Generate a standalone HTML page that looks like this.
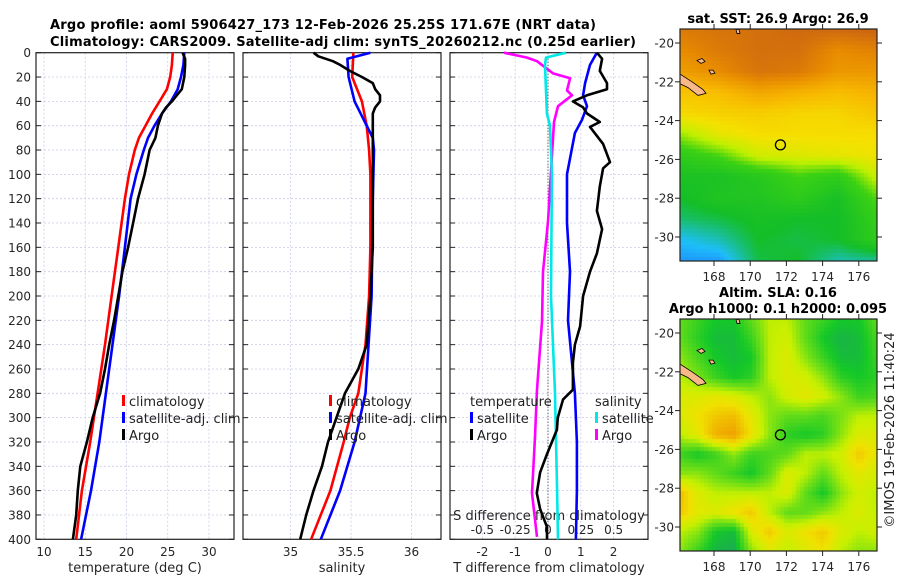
<!DOCTYPE html>
<html><head><meta charset="utf-8">
<style>
html,body{margin:0;padding:0;background:#fff;}
svg{display:block;font-family:"DejaVu Sans","Liberation Sans",sans-serif;}
canvas{position:absolute;}
</style></head>
<body>
<div style="position:relative;width:900px;height:580px;">
<canvas id="sst" width="197" height="232" style="left:680px;top:29px"></canvas>
<canvas id="sla" width="197" height="232" style="left:680px;top:319px"></canvas>
<svg id="svg" width="900" height="580" style="position:absolute;left:0;top:0" xmlns="http://www.w3.org/2000/svg">
<text x="50" y="29" font-size="13" font-weight="bold" textLength="546">Argo profile: aoml 5906427_173 12-Feb-2026 25.25S 171.67E (NRT data)</text>
<text x="50" y="46" font-size="13" font-weight="bold" textLength="586">Climatology: CARS2009. Satellite-adj clim: synTS_20260212.nc (0.25d earlier)</text>
<text x="778" y="23" font-size="13" font-weight="bold" text-anchor="middle">sat. SST: 26.9 Argo: 26.9</text>
<text x="778" y="297" font-size="13" font-weight="bold" text-anchor="middle">Altim. SLA: 0.16</text>
<text x="778" y="313" font-size="13" font-weight="bold" text-anchor="middle">Argo h1000: 0.1 h2000: 0.095</text>
<text transform="translate(894,430) rotate(-90)" font-size="13" text-anchor="middle" fill="#222">©IMOS 19-Feb-2026 11:40:24</text>
</svg>
</div>
<script>
// ---- data ----
const tempArgoDepth=[0,5,10,20,30,35,40,45,50,60,70,80,90,100,120,140,160,180,200,220,240,260,280,300,320,340,360,380,400];
const tempArgo=[26.8,27.1,27.1,27.0,26.7,26.1,25.5,24.8,24.3,23.8,23.5,22.8,22.5,22.2,21.4,20.8,20.2,19.5,19.0,18.5,17.9,17.4,16.8,15.9,15.2,14.4,14.1,13.9,13.5];
const climDepth=[0,10,20,30,40,50,60,70,80,100,120,160,200,240,280,320,360,400];
const tempClim=[25.6,25.5,25.3,24.9,24.0,23.1,22.3,21.5,21.0,20.3,19.8,19.0,18.2,17.4,16.5,15.6,14.6,13.9];
const tempSat=[27.0,26.9,26.6,26.2,25.4,24.3,23.4,22.6,22.1,21.2,20.5,19.8,19.1,18.3,17.5,16.7,15.7,14.5];
const salClimDepth=[0,20,40,60,80,100,160,200,240,280,300,320,360,400];
const salClim=[35.52,35.51,35.59,35.63,35.65,35.66,35.66,35.65,35.62,35.56,35.49,35.44,35.33,35.17];
const salSatDepth=[0,5,20,40,60,70,80,120,200,280,320,360,400];
const salSat=[35.66,35.47,35.48,35.53,35.63,35.68,35.69,35.68,35.67,35.62,35.53,35.41,35.25];
const salArgoDepth=[0,3,7,10,15,20,25,30,35,40,45,50,60,80,100,160,200,240,260,280,300,320,340,360,380,400];
const salArgo=[35.19,35.23,35.35,35.41,35.49,35.59,35.68,35.70,35.74,35.74,35.70,35.68,35.68,35.68,35.68,35.68,35.66,35.63,35.56,35.45,35.38,35.31,35.26,35.19,35.13,35.08];
const dTArgoDepth=[0,5,15,25,30,35,40,45,50,57,61,75,90,95,110,130,145,165,180,200,225,240,255,277,285,300,310,330,345,362,375,390,400];
const dTArgo=[1.49,1.65,1.58,1.8,1.8,1.19,0.76,1.07,1.19,1.58,1.28,1.68,1.89,1.68,1.58,1.49,1.65,1.49,1.28,1.07,0.98,0.82,0.76,0.76,0.46,0.30,0.27,-0.03,-0.24,-0.34,-0.24,-0.03,-0.03];
const dTSatDepth=[0,10,25,35,44,55,66,100,140,180,220,280,320,360,400];
const dTSat=[1.49,1.28,1.13,1.07,1.19,1.04,0.82,0.58,0.58,0.67,0.61,0.82,0.88,0.88,0.85];
const dSArgoDepth=[0,4,7,17,21,31,35,44,57,98,139,180,221,277,316,362,398];
const dSArgo=[-0.335,-0.160,-0.084,0.038,0.168,0.145,0.183,0.076,0.046,0.023,0.0,-0.038,-0.046,-0.084,-0.099,-0.122,-0.084];
const dSSatDepth=[0,4,10,50,60,100,200,280,360,400];
const dSSat=[0.137,-0.015,-0.023,-0.008,0.015,0.030,0.023,0.053,0.069,0.076];
const depthTicks=[0,20,40,60,80,100,120,140,160,180,200,220,240,260,280,300,320,340,360,380,400];
const tempTicks=[10,15,20,25,30];
const salTicks=[35,35.5,36];
const dTTicks=[-2,-1,0,1,2];
const dSTicks=[-0.5,-0.25,0,0.25,0.5];
const lonTicks=[168,170,172,174,176];
const latTicks=[-20,-22,-24,-26,-28,-30];
const floatLon=171.67, floatLat=-25.25;
const sstGrid=[
[.92,.94,.95,.97,.97,.99],[.87,.92,.95,.95,.87,.9],[.82,.87,.94,.92,.84,.84],[.72,.74,.8,.77,.74,.77],
[.67,.69,.7,.68,.68,.72],[.52,.62,.66,.66,.66,.66],[.4,.46,.58,.6,.62,.64],[.33,.33,.37,.45,.4,.57],
[.3,.35,.35,.4,.32,.47],[.25,.28,.32,.3,.3,.42],[.15,.2,.3,.28,.3,.4],[.1,.1,.28,.3,.2,.22]];
const slaGrid=[
[.45,.4,.35,.35,.45,.55,.55,.45,.4,.35,.35,.45],[.45,.38,.32,.32,.4,.55,.58,.45,.35,.3,.32,.42],
[.5,.42,.35,.32,.35,.55,.6,.5,.4,.32,.32,.4],[.55,.48,.4,.35,.38,.55,.6,.58,.5,.38,.35,.38],
[.6,.6,.62,.6,.55,.5,.58,.62,.58,.5,.4,.42],[.6,.65,.7,.72,.62,.5,.45,.45,.42,.48,.55,.55],
[.55,.62,.75,.78,.65,.5,.38,.35,.38,.5,.6,.6],[.4,.35,.4,.5,.4,.42,.45,.55,.55,.58,.7,.62],
[.5,.5,.45,.4,.35,.45,.6,.55,.45,.55,.62,.58],[.72,.6,.55,.55,.55,.55,.6,.45,.35,.5,.58,.55],
[.7,.62,.6,.65,.7,.55,.45,.45,.5,.55,.6,.55],[.55,.5,.35,.32,.6,.7,.6,.65,.7,.6,.55,.58],
[.5,.4,.3,.28,.5,.6,.55,.6,.65,.55,.5,.5]];

// ---- scales ----
const NS="http://www.w3.org/2000/svg";
const svg=document.getElementById('svg');
const Y0=52.7, YS=1.2165;
const yD=d=>Y0+d*YS;
const xT=t=>44+(t-10)*8.25;
const xS=s=>351+(s-35.5)*121;
const xDT=v=>548+v*32.8;
const xDS=s=>548+s*131.3;
const panels=[[36,234],[243,441],[450,648]];
function el(tag,attrs,parent){const e=document.createElementNS(NS,tag);for(const k in attrs)e.setAttribute(k,attrs[k]);(parent||svg).appendChild(e);return e;}
function txt(x,y,s,attrs){const e=el('text',Object.assign({x:x,y:y,'font-size':12,fill:'#262626'},attrs||{}));e.textContent=s;return e;}

panels.forEach((p,i)=>{
  const g=el('g',{});
  
  
  depthTicks.forEach(d=>{
    const l=el('line',{x1:p[0],x2:p[1],y1:yD(d),y2:yD(d),stroke:'#c8cce8','stroke-width':0.8,'stroke-dasharray':'2,2'},g);
    
    
    el('line',{x1:p[0],x2:p[0]+5,y1:yD(d),y2:yD(d),stroke:'#222'},g);
    el('line',{x1:p[1]-5,x2:p[1],y1:yD(d),y2:yD(d),stroke:'#222'},g);
  });
  const xt=i==0?tempTicks.map(xT):i==1?salTicks.map(xS):dTTicks.map(xDT);
  xt.forEach(x=>{
    const l=el('line',{x1:x,x2:x,y1:Y0,y2:yD(400),stroke:'#c8cce8','stroke-width':0.8,'stroke-dasharray':'2,2'},g);
    
    
  });
  const r=el('rect',{x:p[0],y:Y0,width:p[1]-p[0],height:yD(400)-Y0,fill:'none',stroke:'#222','stroke-width':1.2},g);
  
  
});
depthTicks.forEach(d=>{
  const t=txt(31,yD(d)+4.5,String(d),{'text-anchor':'end'});
  
  
});
function xticks(vals,fx,y,fmt){vals.forEach(v=>{
  const t=txt(fx(v),y,fmt?fmt(v):String(v),{'text-anchor':'middle'});
  
  
});}
xticks(tempTicks,xT,556);
xticks(salTicks,xS,556);
xticks(dTTicks,xDT,556);
xticks(dSTicks,xDS,534,v=>String(v));
[['temperature (deg C)',135,'temperature-axis-title'],['salinity',342,'salinity-axis-title'],['T difference from climatology',549,'t-diff-axis-title']].forEach(a=>{
  const t=txt(a[1],572,a[0],{'text-anchor':'middle','font-size':13});
  
  
});
{const t=txt(549,520,'S difference from climatology',{'text-anchor':'middle','font-size':13});

}
{const l=el('line',{x1:548,x2:548,y1:Y0,y2:yD(400),stroke:'#333','stroke-width':1,'stroke-dasharray':'1,2'});

}

function series(depths,vals,fx,color,name,w){
  const pts=depths.map((d,k)=>fx(vals[k]).toFixed(1)+','+yD(d).toFixed(1)).join(' ');
  const pl=el('polyline',{points:pts,fill:'none',stroke:color,'stroke-width':w||2.6,'stroke-linejoin':'round'});
  
  
}
series(climDepth,tempClim,xT,'#ff0000','temp-climatology-line');
series(climDepth,tempSat,xT,'#0000ff','temp-satellite-line');
series(tempArgoDepth,tempArgo,xT,'#000','temp-argo-line');
series(salClimDepth,salClim,xS,'#ff0000','sal-climatology-line');
series(salSatDepth,salSat,xS,'#0000ff','sal-satellite-line');
series(salArgoDepth,salArgo,xS,'#000','sal-argo-line');
series(dSArgoDepth,dSArgo,xDS,'#ff00ff','s-diff-argo-line');
series(dSSatDepth,dSSat,xDS,'#00e8e8','s-diff-satellite-line');
series(dTSatDepth,dTSat,xDT,'#0000ff','t-diff-satellite-line');
series(dTArgoDepth,dTArgo,xDT,'#000','t-diff-argo-line');

function legend(x,y,items,name){
  const g=el('g',{});
  
  
  items.forEach((it,k)=>{
    const yy=y+k*17;
    if(it[1]) el('rect',{x:x,y:yy-6,width:3,height:11,fill:it[1]},g);
    const t=txt(x+(it[1]?7:0),yy+5,it[0],{'font-size':13,fill:'#222'});
    g.appendChild(t);
  });
}
legend(122,401,[['climatology','#ff0000'],['satellite-adj. clim','#0000ff'],['Argo','#000']],'temp-legend');
legend(329,401,[['climatology','#ff0000'],['satellite-adj. clim','#0000ff'],['Argo','#000']],'sal-legend');
legend(470,401,[['temperature',null],['satellite','#0000ff'],['Argo','#000']],'t-diff-legend');
legend(595,401,[['salinity',null],['satellite','#00e8e8'],['Argo','#ff00ff']],'s-diff-legend');

// ---- maps ----
const MX0=680,MX1=877;
const lonX=lon=>714+(lon-168)*18.1;
function cmapSST(v){const st=[[0,[30,80,255]],[.15,[30,190,250]],[.3,[20,190,40]],[.45,[60,210,20]],[.55,[190,240,0]],[.65,[245,225,0]],[.75,[248,185,0]],[.87,[232,140,0]],[1,[200,95,20]]];return interp(st,v);}
function cmapSLA(v){const st=[[.25,[30,160,100]],[.35,[20,200,40]],[.48,[120,225,20]],[.56,[200,240,0]],[.65,[240,225,0]],[.78,[240,160,0]],[.9,[235,120,20]]];return interp(st,v);}
function interp(st,v){if(v<=st[0][0])return st[0][1];for(let i=1;i<st.length;i++){if(v<=st[i][0]){const f=(v-st[i-1][0])/(st[i][0]-st[i-1][0]);return st[i-1][1].map((c,k)=>Math.round(c+(st[i][1][k]-c)*f));}}return st[st.length-1][1];}
function bil(grid,u,v){const R=grid.length-1,C=grid[0].length-1;const r=Math.min(Math.max(v*R,0),R),c=Math.min(Math.max(u*C,0),C);const r0=Math.min(Math.floor(r),R-1),c0=Math.min(Math.floor(c),C-1);const fr=r-r0,fc=c-c0;return grid[r0][c0]*(1-fr)*(1-fc)+grid[r0][c0+1]*(1-fr)*fc+grid[r0+1][c0]*fr*(1-fc)+grid[r0+1][c0+1]*fr*fc;}
function drawMap(id,grid,cmap){
  const cv=document.getElementById(id),ctx=cv.getContext('2d');
  const cs=4;
  for(let y=0;y<232;y+=cs)for(let x=0;x<197;x+=cs){
    const c=cmap(bil(grid,(x+2)/197,(y+2)/232));
    ctx.fillStyle='rgb('+c.join(',')+')';ctx.fillRect(x,y,cs,cs);
  }
}
drawMap('sst',sstGrid,cmapSST);
drawMap('sla',slaGrid,cmapSLA);

function mapAxes(top,latTop,name){
  const g=el('g',{});
  
  
  const latY=lat=>latTop+(-20-lat)*19.4;
  el('path',{d:`M680 ${latY(-21.6)} L692 ${latY(-22)} L703 ${latY(-22.4)} L706 ${latY(-22.6)} L698 ${latY(-22.7)} L688 ${latY(-22.3)} L680 ${latY(-22.1)} Z`,fill:'#f8b888',stroke:'#000','stroke-width':0.8},g);
  el('path',{d:`M697 ${latY(-20.9)} l5 -2 l3 3 l-4 2 z M709 ${latY(-21.4)} l4 0 l2 3 l-4 1 z M736 ${latY(-19.3)} l3 0 l1 4 l-3 0 z`,fill:'#f8b888',stroke:'#000','stroke-width':0.8},g);
  el('rect',{x:MX0,y:top,width:MX1-MX0,height:232,fill:'none',stroke:'#222','stroke-width':1.2},g);
  latTicks.forEach(l=>{
    el('line',{x1:MX0-5,x2:MX0,y1:latY(l),y2:latY(l),stroke:'#222'},g);
    el('line',{x1:MX1,x2:MX1+5,y1:latY(l),y2:latY(l),stroke:'#222'},g);
    const t=txt(MX0-6,latY(l)+4.5,String(l),{'text-anchor':'end'});g.appendChild(t);
  });
  lonTicks.forEach(l=>{
    el('line',{x1:lonX(l),x2:lonX(l),y1:top+232,y2:top+237,stroke:'#222'},g);
    el('line',{x1:lonX(l),x2:lonX(l),y1:top-5,y2:top,stroke:'#222'},g);
    const t=txt(lonX(l),top+252,String(l),{'text-anchor':'middle'});g.appendChild(t);
  });
  const c=el('circle',{cx:lonX(floatLon),cy:latY(floatLat),r:5,fill:'none',stroke:'#000','stroke-width':1.3});
  
  
}
mapAxes(29,43,'sst-map-axes');
mapAxes(319,333,'sla-map-axes');
</script>
</body></html>
